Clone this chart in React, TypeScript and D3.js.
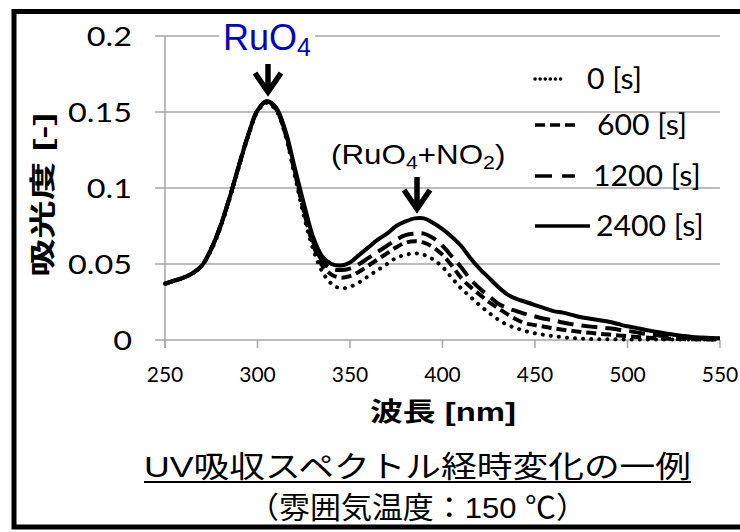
import React from "react";
import * as d3 from "d3";

// wavelength [nm], every 5 nm
const wavelength = [
  250, 255, 260, 265, 270, 275, 280, 285, 290, 295, 300, 305, 310, 315, 320, 325, 330, 335, 340, 345,
  350, 355, 360, 365, 370, 375, 380, 385, 390, 395, 400, 405, 410, 415, 420, 425, 430, 435, 440, 445,
  450, 455, 460, 465, 470, 475, 480, 485, 490, 495, 500, 505, 510, 515, 520, 525, 530, 535, 540, 545, 550,
];

// absorbance
const abs0 = [
  0.037, 0.039, 0.041, 0.044, 0.049, 0.059, 0.074, 0.093, 0.114, 0.134, 0.15, 0.156, 0.151, 0.135, 0.109, 0.082, 0.06, 0.045, 0.037, 0.034,
  0.035, 0.038, 0.042, 0.046, 0.05, 0.054, 0.056, 0.057, 0.056, 0.053, 0.048, 0.041, 0.034, 0.0285, 0.023, 0.018, 0.0135, 0.01, 0.0077, 0.0058,
  0.0044, 0.0034, 0.0025, 0.0018, 0.0013, 0.0009, 0.0006, 0.0005, 0.0005, 0.0004, 0.0004, 0.0004, 0.0003, 0.0003, 0.0003, 0.0003, 0.0003, 0.0003, 0.0003, 0.0003, 0.0003,
];
const abs600 = [
  0.037, 0.039, 0.041, 0.044, 0.049, 0.06, 0.075, 0.094, 0.115, 0.135, 0.151, 0.157, 0.152, 0.136, 0.111, 0.085, 0.063, 0.049, 0.043, 0.041,
  0.042, 0.045, 0.049, 0.053, 0.057, 0.061, 0.064, 0.065, 0.064, 0.061, 0.056, 0.049, 0.041, 0.035, 0.03, 0.025, 0.021, 0.017, 0.0135, 0.011,
  0.0098, 0.0087, 0.0077, 0.0068, 0.006, 0.0053, 0.0047, 0.0041, 0.0036, 0.003, 0.0025, 0.002, 0.0016, 0.0012, 0.001, 0.0008, 0.0006, 0.0005, 0.0004, 0.0004, 0.0003,
];
const abs1200 = [
  0.037, 0.039, 0.041, 0.044, 0.049, 0.06, 0.075, 0.094, 0.115, 0.135, 0.151, 0.157, 0.152, 0.137, 0.112, 0.087, 0.065, 0.052, 0.047, 0.046,
  0.047, 0.05, 0.054, 0.058, 0.062, 0.066, 0.069, 0.07, 0.07, 0.067, 0.062, 0.055, 0.048, 0.04, 0.034, 0.029, 0.024, 0.021, 0.019, 0.017,
  0.0155, 0.014, 0.013, 0.0115, 0.0103, 0.0095, 0.0088, 0.0082, 0.0077, 0.0068, 0.006, 0.005, 0.004, 0.0032, 0.0025, 0.002, 0.0015, 0.0012, 0.001, 0.0008, 0.0007,
];
const abs2400 = [
  0.037, 0.039, 0.041, 0.044, 0.049, 0.06, 0.075, 0.094, 0.115, 0.135, 0.151, 0.157, 0.153, 0.138, 0.114, 0.09, 0.068, 0.055, 0.05, 0.049,
  0.051, 0.056, 0.061, 0.066, 0.07, 0.075, 0.078, 0.08, 0.08, 0.077, 0.073, 0.068, 0.062, 0.054, 0.047, 0.041, 0.035, 0.03, 0.027, 0.025,
  0.023, 0.021, 0.019, 0.018, 0.0165, 0.015, 0.014, 0.013, 0.012, 0.0105, 0.009, 0.0078, 0.0066, 0.0055, 0.0045, 0.0035, 0.0027, 0.002, 0.0016, 0.0013, 0.0012,
];

const seriesLabels = ["0 [s]", "600 [s]", "1200 [s]", "2400 [s]"];
const xTicks = [250, 300, 350, 400, 450, 500, 550];
const yTicks = [0, 0.05, 0.1, 0.15, 0.2];

const W = 740;
const H = 532;
const latin = "Lato, 'Noto Sans', sans-serif";
const jp = "'Liberation Sans', 'Noto Sans CJK JP', sans-serif";

const x = d3.scaleLinear().domain([250, 550]).range([165, 720]);
const y = d3.scaleLinear().domain([0, 0.2]).range([340, 36]);

const line = d3
  .line<number>()
  .x((_, i) => x(wavelength[i]))
  .y((d) => y(d))
  .curve(d3.curveCatmullRom);

// styles per series (same order as labels)
const styles = [
  { dash: "0.1 8", cap: "round", legendDash: "0.1 5", legendEnd: 561, textX: 587 },
  { dash: "10 5", cap: "butt", legendDash: "10 5", legendEnd: 577, textX: 597 },
  { dash: "16 8", cap: "butt", legendDash: "17 10", legendEnd: 575, textX: 593 },
  { dash: "none", cap: "butt", legendDash: "none", legendEnd: 590, textX: 596 },
];
const legendY = [89, 135, 186, 236];

const Arrow = ({ cx, top, tip }: { cx: number; top: number; tip: number }) => (
  <g stroke="#000" strokeWidth={5.5} fill="none">
    <line x1={cx} x2={cx} y1={top} y2={tip - 3} />
    <polyline points={`${cx - 13},${tip - 23} ${cx},${tip - 4} ${cx + 13},${tip - 23}`} strokeLinejoin="miter" />
  </g>
);

export default function App() {
  const series = [abs0, abs600, abs1200, abs2400];
  return (
    <svg
      width={W}
      height={H}
      style={{ position: "absolute", left: 0, top: 0, background: "#fff" }}
    >
      <rect x={0} y={0} width={W} height={H} fill="#fff" />

      {/* grid */}
      {yTicks.map((t) => (
        <line key={t} x1={155} x2={720} y1={y(t)} y2={y(t)} stroke="#a6a6a6" strokeWidth={1.5} />
      ))}
      <line x1={165} x2={165} y1={y(0.2)} y2={348} stroke="#a6a6a6" strokeWidth={1.5} />
      {xTicks.map((t) => (
        <line key={t} x1={x(t)} x2={x(t)} y1={340} y2={348} stroke="#a6a6a6" strokeWidth={1.5} />
      ))}

      {/* tick labels */}
      {yTicks.map((t) => (
        <text
          key={t}
          transform={`translate(132,${y(t)}) scale(1.2,1)`}
          dy="0.36em"
          textAnchor="end"
          fontFamily={latin}
          fontSize={27}
        >
          {t === 0 ? "0" : String(t)}
        </text>
      ))}
      {xTicks.map((t) => (
        <text key={t} x={x(t)} y={382} textAnchor="middle" fontFamily={latin} fontSize={21}>
          {t}
        </text>
      ))}

      {/* data */}
      {series.map((s, i) => (
        <path
          key={i}
          d={line(s) || ""}
          fill="none"
          stroke="#000"
          strokeWidth={4}
          strokeDasharray={styles[i].dash}
          strokeLinecap={styles[i].cap as any}
        />
      ))}

      {/* RuO4 label */}
      <rect x={219} y={22} width={96} height={30} fill="#fff" />
      <text x={223} y={50} fontFamily={jp} fontSize={36} fill="#0000cc">
        RuO<tspan fontSize={25} dy={6}>4</tspan>
      </text>
      <Arrow cx={268} top={64} tip={96} />

      {/* (RuO4+NO2) label */}
      <text transform="translate(331,164) scale(1.12,1)" fontFamily={jp} fontSize={28} fill="#000">
        (RuO<tspan fontSize={19} dy={5}>4</tspan>
        <tspan dy={-5}>+NO</tspan>
        <tspan fontSize={19} dy={5}>2</tspan>
        <tspan dy={-5}>)</tspan>
      </text>
      <Arrow cx={417} top={177} tip={213} />

      {/* legend */}
      {seriesLabels.map((lab, i) => (
        <g key={lab}>
          <line
            x1={535}
            x2={styles[i].legendEnd}
            y1={legendY[i] - 10}
            y2={legendY[i] - 10}
            stroke="#000"
            strokeWidth={3.5}
            strokeDasharray={styles[i].legendDash}
            strokeLinecap={styles[i].cap as any}
          />
          <text
            transform={`translate(${styles[i].textX},${legendY[i]}) scale(1.08,1)`}
            fontFamily={latin}
            fontSize={28}
          >
            {lab}
          </text>
        </g>
      ))}

      {/* axis titles */}
      <text
        transform="translate(52,195) rotate(-90)"
        textAnchor="middle"
        fontFamily={jp}
        fontWeight={700}
        fontSize={26}
        textLength={164}
        lengthAdjust="spacingAndGlyphs"
      >
        吸光度 [-]
      </text>
      <text
        x={370}
        y={421}
        fontFamily={jp}
        fontWeight={700}
        fontSize={26}
        textLength={146}
        lengthAdjust="spacingAndGlyphs"
      >
        波長 [nm]
      </text>

      {/* caption */}
      <text x={144} y={477} fontFamily={jp} fontSize={30} textLength={547} lengthAdjust="spacingAndGlyphs">
        UV吸収スペクトル経時変化の一例
      </text>
      <line x1={144} x2={691} y1={482} y2={482} stroke="#000" strokeWidth={2} />
      <text x={248} y={518} fontFamily={jp} fontSize={30} textLength={339} lengthAdjust="spacingAndGlyphs">
        （雰囲気温度：150 ℃）
      </text>

      {/* frame */}
      <rect x={14} y={11.5} width={760} height={515.5} fill="none" stroke="#000" strokeWidth={5} />
    </svg>
  );
}
